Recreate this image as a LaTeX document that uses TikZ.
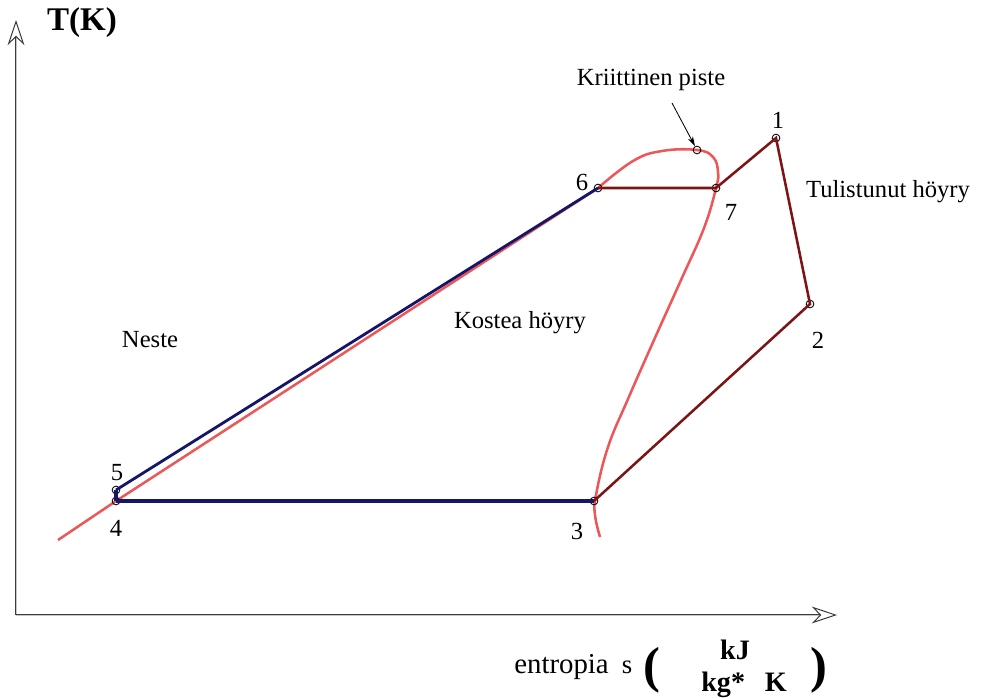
\documentclass[tikz,border=0pt]{standalone}
\usepackage{fontspec}
\setmainfont{Liberation Serif}
\usetikzlibrary{arrows.meta}
\definecolor{CycleNavy}{RGB}{22,22,105}
\definecolor{CycleMaroon}{RGB}{125,20,20}
\definecolor{DomeRed}{RGB}{236,88,88}
\definecolor{AxisGray}{RGB}{60,60,60}

\begin{document}
\begin{tikzpicture}[x=0.025cm, y=-0.025cm,
    pt/.style={circle, draw=black, line width=0.6pt, inner sep=0pt, minimum size=5.5pt},
    lbl/.style={font=\fontsize{17.5}{20}\selectfont, inner sep=0pt},
    axis/.style={draw=AxisGray, double=gray!45, double distance=0.6pt, line width=0.55pt, -{Stealth[open, length=18pt, width=12pt, line width=0.7pt]}}]
    \useasboundingbox (0,0) rectangle (984,697);

    \coordinate (origo) at (16,615);
    \coordinate (yend) at (16,20);
    \coordinate (xend) at (837,615);
    \draw[axis] (origo) -- (yend);
    \draw[axis] (origo) -- (xend);
    \node[inner sep=0pt, font=\bfseries\fontsize{23.5}{26}\selectfont] (tlab) at (82,23) {T(K)};

    \draw[DomeRed, line width=1.8pt] (58,540) -- (116,501) -- (598,188)
        plot[smooth, tension=0.7] coordinates {(598,188) (633,161) (662,151) (697,150) (713,157) (718,172) (716,188) (704,228) (681,280) (654,340) (628,399) (608,447) (596,495) (595,515) (600,537)};

    \node[pt] (p1) at (776,138) {};
    \node[pt] (p2) at (810,304) {};
    \node[pt] (p3) at (594,501) {};
    \node[pt] (p4) at (116,501) {};
    \node[pt] (p5) at (116,490) {};
    \node[pt] (p6) at (598,188) {};
    \node[pt] (p7) at (716,188) {};
    \node[pt] (pk) at (697,150) {};

    \draw[CycleNavy, line width=3.5pt] (p4.center) -- (p3.center);
    \draw[CycleNavy, line width=3pt] (p4.center) -- (p5.center);
    \draw[CycleNavy, line width=2pt] (p5.center) -- (p6.center);
    \draw[CycleMaroon, line width=1.8pt] (p6.center) -- (p7.center) -- (p1.center) -- (p2.center) -- (p3.center);

    \node[lbl] (n1) at (778,120) {1};
    \node[lbl] (n2) at (818,340) {2};
    \node[lbl] (n3) at (577,531) {3};
    \node[lbl] (n4) at (116,528) {4};
    \node[lbl] (n5) at (117,473) {5};
    \node[lbl] (n6) at (582,182) {6};
    \node[lbl] (n7) at (731,212) {7};

    \node[lbl] (kriit) at (651,80) {Kriittinen piste};
    \coordinate (kfrom) at (672,103);
    \draw[-{Stealth[length=7pt, width=4pt]}, line width=0.6pt] (kfrom) -- (pk);

    \node[lbl] (tulist) at (888,192) {Tulistunut höyry};
    \node[lbl] (neste) at (150,340) {Neste};
    \node[lbl] (kostea) at (520,323) {Kostea höyry};

    \node[inner sep=0pt, anchor=base west, font=\fontsize{20.5}{24}\selectfont] (slab) at (514,673) {entropia};
    \node[inner sep=0pt, anchor=base, font=\fontsize{19}{22}\selectfont] (ssym) at (627,673) {s};
    \node[inner sep=0pt, font=\bfseries\fontsize{36}{40}\selectfont] (lpar) at (652,670) {(};
    \node[inner sep=0pt, font=\bfseries\fontsize{20}{22}\selectfont] (ukj) at (735,650) {kJ};
    \node[inner sep=0pt, font=\bfseries\fontsize{20}{22}\selectfont] (ukg) at (744,685) {kg*\hspace{0.7em}K};
    \node[inner sep=0pt, font=\bfseries\fontsize{36}{40}\selectfont] (rpar) at (819,670) {)};
\end{tikzpicture}
\end{document}
